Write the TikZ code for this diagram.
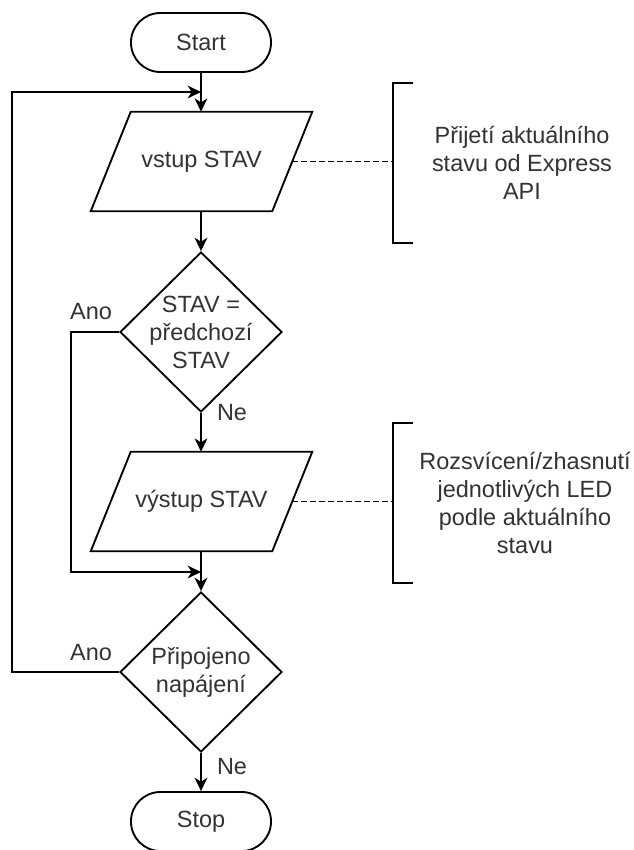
\documentclass[tikz,border=0pt]{standalone}
\usepackage{fontspec}
\setmainfont{Liberation Sans}
\usetikzlibrary{shapes.geometric,arrows.meta}

\begin{document}
\begin{tikzpicture}[x=0.75pt,y=-0.75pt,
  every node/.style={font=\fontsize{17.6}{21}\selectfont, text=black!80},
  edgeline/.style={line width=1.4pt, draw=black},
  flow/.style={edgeline, -{Stealth[length=10pt,width=9.5pt,inset=3pt]}},
  terminal/.style={edgeline, rectangle, rounded corners=22pt, minimum width=105pt, minimum height=44.25pt},
  % the io box is an undrawn rectangle; its slanted outline is drawn from its corners
  io/.style={rectangle, minimum width=135.75pt, minimum height=74.25pt},
  decision/.style={edgeline, diamond, minimum width=121.5pt, minimum height=120pt, inner sep=0pt},
  notetext/.style={align=center},
  annot/.style={line width=1.1pt, draw=black, dash pattern=on 4.5pt off 2.25pt}
]
\useasboundingbox[fill=white] (0,0) rectangle (634,850);

% main flow
\node[terminal] (start) at (201,42.5) {Start};
\node[io] (in1) at (201.5,161.5) {vstup STAV};
\node[decision] (d1) at (201,332) {};
\node[notetext] (d1t) at (d1) {STAV =\\předchozí\\STAV};
\node[io] (out1) at (201.5,501.5) {výstup STAV};
\node[decision] (d2) at (201,672) {};
\node[notetext] (d2t) at (d2) {Připojeno\\napájení};
\node[terminal] (stop) at (201,821.5) {Stop};

% parallelogram outlines of the input/output boxes
\foreach \b in {in1,out1}
  \draw[edgeline] ([xshift=15pt]\b.north west) -- ([xshift=15pt]\b.north east)
    -- ([xshift=-15pt]\b.south east) -- ([xshift=-15pt]\b.south west) -- cycle;

% junction points and return rails
\coordinate (j1) at (201,92);
\coordinate (j2) at (201,572);
\coordinate (railL) at (12,0);
\coordinate (railM) at (71,0);

\draw[flow] (start.south) -- (start.south |- in1.north);
\draw[flow] (start.south |- in1.south) -- (d1.north);
\draw[flow] (d1.south) -- (d1.south |- out1.north);
\draw[flow] (d1.south |- out1.south) -- (d2.north);
\draw[flow] (d2.south) -- (stop.north);
\draw[flow] (d1.west) -- (d1.west -| railM) |- (j2);
\draw[flow] (d2.west) -- (d2.west -| railL) |- (j1);

% branch labels
\node (ano1) at (91,312) {Ano};
\node (ne1) at (232,413) {Ne};
\node (ano2) at (91,653) {Ano};
\node (ne2) at (232,767) {Ne};

% annotations
\coordinate (b1) at (393,163);
\coordinate (b2) at (393,503);
\node[notetext] (n1) at (522,163) {Přijetí aktuálního\\stavu od Express\\API};
\node[notetext] (n2) at (525,503) {Rozsvícení/zhasnutí\\jednotlivých LED\\podle aktuálního\\stavu};
\draw[annot] (in1.east) -- (in1.east -| b1);
\draw[annot] (out1.east) -- (out1.east -| b2);
\draw[edgeline] (b1) ++(20,-80) -- ++(-20,0) -- ++(0,160) -- ++(20,0);
\draw[edgeline] (b2) ++(20,-80) -- ++(-20,0) -- ++(0,160) -- ++(20,0);
\end{tikzpicture}
\end{document}
